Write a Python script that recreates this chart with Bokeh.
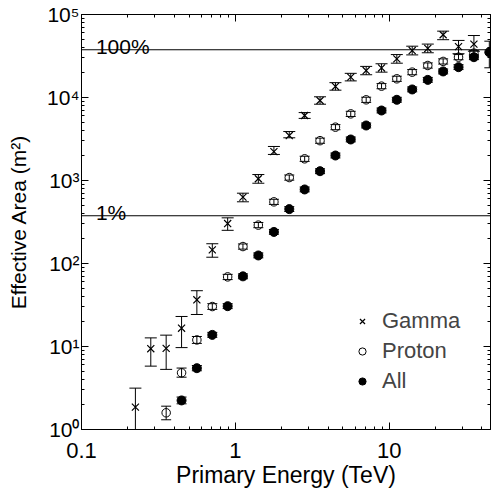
from bokeh.plotting import figure
from bokeh.models import (ColumnDataSource, Whisker, TeeHead, LogAxis, FixedTicker,
                          Span, Legend, LegendItem, CustomJSTickFormatter)
from bokeh.embed import file_html
from bokeh.resources import INLINE
from bokeh.core.properties import value

# ---------------- data ----------------
gamma_e = [0.224, 0.282, 0.355, 0.447, 0.562, 0.708, 0.891, 1.12, 1.41, 1.78, 2.24, 2.82,
           3.55, 4.47, 5.62, 7.08, 8.91, 11.2, 14.1, 17.8, 22.4, 28.2, 35.5]
gamma_a = [1.86, 9.4, 9.5, 16.6, 36.5, 146, 303, 630, 1050, 2230, 3480, 6070,
           9200, 13600, 17600, 21100, 22700, 29200, 36800, 39000, 57000, 41000, 44000]
gamma_lo = [0.54, 5.8, 5.3, 9.7, 24.3, 119, 251, 554, 927, 2060, 3270, 5600,
            8300, 12250, 15850, 18800, 20200, 25900, 32600, 34600, 49700, 33700, 36100]
gamma_hi = [3.15, 12.7, 13.7, 23, 47, 173, 355, 703, 1180, 2570, 3890, 6580,
            10200, 15100, 19550, 23700, 25500, 32900, 41500, 44000, 63000, 48700, 55800]

proton_e = [0.355, 0.447, 0.562, 0.708, 0.891, 1.12, 1.41, 1.78, 2.24, 2.82, 3.55,
            4.47, 5.62, 7.08, 8.91, 11.2, 14.1, 17.8, 22.4, 28.2, 35.5]
proton_a = [1.59, 4.82, 12.0, 30.3, 69, 160, 290, 553, 1085, 1825, 3020,
            4390, 6350, 9380, 13700, 16800, 20200, 24300, 27200, 30600, 34200]
proton_lo = [1.31, 4.27, 10.9, 28.0, 64, 149, 270, 515, 1010, 1700, 2810,
             4090, 5910, 8730, 12750, 15650, 18800, 22600, 25300, 28500, 31800]
proton_hi = [1.91, 5.5, 13.2, 32.8, 74, 172, 312, 594, 1165, 1960, 3240,
             4710, 6820, 10080, 14700, 18050, 21700, 26100, 29200, 32900, 36700]

all_e = [0.447, 0.562, 0.708, 0.891, 1.12, 1.41, 1.78, 2.24, 2.82, 3.55, 4.47,
         5.62, 7.08, 8.91, 11.2, 14.1, 17.8, 22.4, 28.2, 35.5, 44.7]
all_a = [2.24, 5.48, 13.8, 30.6, 70, 125, 240, 452, 780, 1295, 2000,
         3120, 4600, 6970, 9380, 12500, 16300, 20600, 23200, 30600, 35100]
all_lo = [2.04, 5.1, 12.9, 28.6, 65.5, 117, 225, 423, 730, 1210, 1870,
          2920, 4300, 6520, 8770, 11700, 15250, 19250, 21700, 28600, 22800]
all_hi = [2.46, 5.9, 14.8, 32.8, 75, 134, 257, 484, 835, 1385, 2140,
          3340, 4930, 7460, 10050, 13400, 17450, 22050, 24850, 32750, 47700]

level_100 = 37600
level_1 = 376
level_labels = ["100%", "1%"]
label_energy = 0.124

x_tick_values = [0.1, 1, 10]
x_tick_labels = ["0.1", "1", "10"]
y_tick_values = [1, 10, 100, 1000, 10000, 100000]
y_tick_labels = ["10\u2070", "10\u00b9", "10\u00b2", "10\u00b3", "10\u2074", "10\u2075"]

FONT = "Liberation Sans"

x_minor = [m * d for d in x_tick_values for m in range(2, 10) if m * d < 46]
y_minor = [m * d for d in y_tick_values[:-1] for m in range(2, 10)]

p = figure(x_axis_type="log", y_axis_type="log",
           x_range=(0.1, 45.5), y_range=(1, 1e5),
           frame_width=409, frame_height=415,
           min_border_left=81, min_border_top=14, min_border_right=2, min_border_bottom=0,
           output_backend="svg", toolbar_location=None)
p.xgrid.visible = False
p.ygrid.visible = False
p.outline_line_color = "black"
p.background_fill_color = "white"
p.border_fill_color = "white"


def style_axis(ax, ticks, minor):
    ax.ticker = FixedTicker(ticks=ticks, minor_ticks=minor)
    ax.axis_line_color = "black"
    ax.major_tick_line_color = "black"
    ax.minor_tick_line_color = "black"
    ax.major_tick_in = 7
    ax.major_tick_out = 0
    ax.minor_tick_in = 3
    ax.minor_tick_out = 0
    ax.major_label_text_font = FONT
    ax.major_label_text_color = "black"
    ax.axis_label_text_font = FONT
    ax.axis_label_text_font_style = "normal"
    ax.axis_label_text_color = "black"


xa = p.xaxis[0]
style_axis(xa, x_tick_values, x_minor)
xa.major_label_overrides = dict(zip(x_tick_values, x_tick_labels))
xa.major_label_text_font_size = "22px"
xa.major_label_standoff = 13
xa.axis_label = "Primary Energy (TeV)"
xa.axis_label_text_font_size = "23px"
xa.axis_label_standoff = 1

ya = p.yaxis[0]
style_axis(ya, y_tick_values, y_minor)
ya.major_label_overrides = dict(zip(y_tick_values, y_tick_labels))
ya.major_label_text_font_size = "21px"
ya.major_label_standoff = 2
ya.axis_label = "Effective Area (m\u00b2)"
ya.axis_label_text_font_size = "21px"
ya.axis_label_standoff = 14

blank = CustomJSTickFormatter(code="return ''")

top = LogAxis()
style_axis(top, x_tick_values, x_minor)
top.formatter = blank
top.major_label_standoff = 0
p.add_layout(top, "above")

right = LogAxis()
style_axis(right, y_tick_values, y_minor)
right.formatter = blank
right.major_label_standoff = 0
p.add_layout(right, "right")

# reference levels
for lvl in (level_100, level_1):
    p.add_layout(Span(location=lvl, dimension="width", line_color="black", line_width=1))
p.text(x=[label_energy, label_energy], y=[level_100, level_1], text=level_labels,
       text_font=value(FONT), text_font_size="21px", text_baseline="alphabetic",
       text_align="left", y_offset=-3, text_color="black")

# error bars
def add_err(xs, lo, hi, head):
    src = ColumnDataSource(dict(x=xs, lo=lo, hi=hi))
    w = Whisker(source=src, base="x", lower="lo", upper="hi", dimension="height",
                line_color="black", line_width=1,
                upper_head=TeeHead(size=head, line_color="black", line_width=1),
                lower_head=TeeHead(size=head, line_color="black", line_width=1))
    p.add_layout(w)

add_err(gamma_e, gamma_lo, gamma_hi, 12)
add_err(proton_e, proton_lo, proton_hi, 10)
add_err(all_e, all_lo, all_hi, 10)

rg = p.scatter(gamma_e, gamma_a, marker="x", size=10, line_color="black", line_width=1.2)
rp = p.scatter(proton_e, proton_a, marker="circle", size=8.5, line_color="black",
               fill_color=None, line_width=1)
ra = p.scatter(all_e, all_a, marker="circle", size=9, line_color="black",
               fill_color="black", line_width=1)

legend = Legend(items=[LegendItem(label="Gamma", renderers=[rg]),
                       LegendItem(label="Proton", renderers=[rp]),
                       LegendItem(label="All", renderers=[ra])],
                location=(272, 35), border_line_color=None, background_fill_alpha=0,
                label_text_font=FONT, label_text_font_size="22px",
                glyph_width=18, glyph_height=24, label_height=24, spacing=4,
                padding=0, margin=0, label_standoff=11)
p.add_layout(legend)

open("out.html", "w").write(file_html(p, INLINE))
